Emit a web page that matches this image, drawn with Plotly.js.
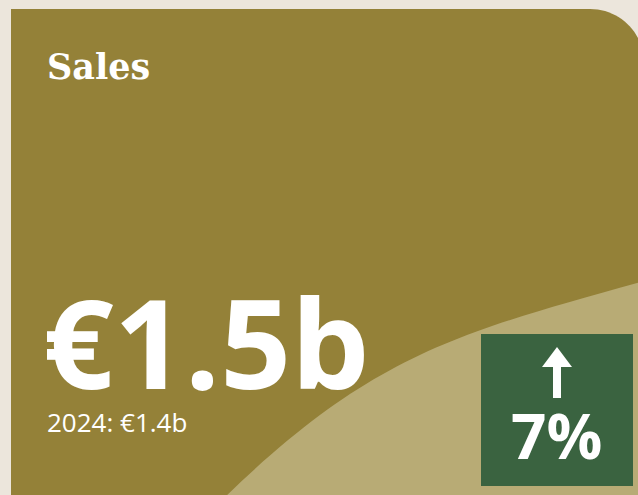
<!DOCTYPE html>
<html>
<head>
<meta charset="utf-8">
<script src="https://cdn.plot.ly/plotly-3.0.1.min.js"></script>
<style>
html,body{margin:0;padding:0;background:#ECE6DC;}
#chart{width:638px;height:495px;}
</style>
</head>
<body>
<div id="chart"></div>
<script>
// ---- data ----
const metricName = ['Sales'];
const currentValue = [1.5];      // € billions
const previousYear = ['2024'];
const previousValue = [1.4];     // € billions
const changePct = [7];           // % change vs previous year

// ---- styling ----
const BG = '#ECE6DC';
const OLIVE = '#948138';
const LIGHT = '#B8AB75';
const GREEN = '#3A6340';

const fmt = v => '€' + v.toFixed(1) + 'b';

const shapes = [
  // card with rounded top-right corner
  {type:'path', xref:'x', yref:'y', layer:'below', line:{width:0}, fillcolor:OLIVE,
   path:'M 11 500 L 11 9 L 590 9 C 620 9 644 33 644 63 L 644 500 Z'},
  // lighter swoosh
  {type:'path', xref:'x', yref:'y', layer:'below', line:{width:0}, fillcolor:LIGHT,
   path:'M 222 500 C 372 354 458 333 644 281 L 644 500 Z'},
  // change badge
  {type:'rect', xref:'x', yref:'y', layer:'below', line:{width:0}, fillcolor:GREEN,
   x0:481, x1:633, y0:334, y1:486}
];
if (changePct[0] >= 0) {
  shapes.push({type:'path', xref:'x', yref:'y', line:{width:0}, fillcolor:'#FFFFFF',
    path:'M 557 347 L 572 367 L 561 367 L 561 398 L 553 398 L 553 367 L 542 367 Z'});
} else {
  shapes.push({type:'path', xref:'x', yref:'y', line:{width:0}, fillcolor:'#FFFFFF',
    path:'M 557 398 L 572 378 L 561 378 L 561 347 L 553 347 L 553 378 L 542 378 Z'});
}

const annotations = [
  {xref:'x', yref:'y', x:45, y:66, xanchor:'left', yanchor:'middle', showarrow:false,
   text:'<b>' + metricName[0] + '</b>',
   font:{family:'DejaVu Serif', size:35, color:'#FFFFFF'}},
  {xref:'x', yref:'y', x:41, y:340, xanchor:'left', yanchor:'middle', showarrow:false,
   text:'<b>' + fmt(currentValue[0]) + '</b>',
   font:{family:'Open Sans', size:124, color:'#FFFFFF'}},
  {xref:'x', yref:'y', x:45, y:422, xanchor:'left', yanchor:'middle', showarrow:false,
   text:previousYear[0] + ': ' + fmt(previousValue[0]),
   font:{family:'Open Sans', size:26, color:'#FFFFFF'}},
  {xref:'x', yref:'y', x:556, y:435, xanchor:'center', yanchor:'middle', showarrow:false,
   text:'<b>' + Math.abs(changePct[0]) + '%</b>',
   font:{family:'Open Sans', size:62, color:'#FFFFFF'}}
];

const layout = {
  width:638, height:495,
  margin:{l:0, r:0, t:0, b:0, pad:0},
  paper_bgcolor:BG, plot_bgcolor:'rgba(0,0,0,0)',
  showlegend:false,
  xaxis:{range:[0,638], visible:false, fixedrange:true},
  yaxis:{range:[495,0], visible:false, fixedrange:true},
  shapes:shapes,
  annotations:annotations
};

Plotly.newPlot('chart', [{type:'scatter', x:[], y:[], hoverinfo:'skip'}], layout,
  {displayModeBar:false, staticPlot:true});
</script>
</body>
</html>
